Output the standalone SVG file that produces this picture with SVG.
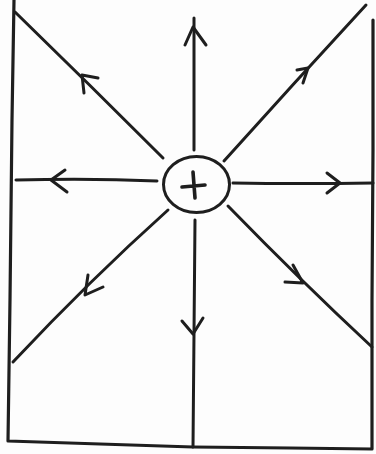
<svg xmlns="http://www.w3.org/2000/svg" width="376" height="454" viewBox="0 0 376 454">
<style>
.ln{fill:none;stroke:#1e1e1e;stroke-width:3;stroke-linecap:round;stroke-linejoin:round}
.bd{fill:none;stroke:#1e1e1e;stroke-width:3.2;stroke-linecap:round;stroke-linejoin:round}
.plus{fill:none;stroke:#1e1e1e;stroke-width:3.6;stroke-linecap:round}
</style>
<rect width="376" height="454" fill="#fdfdfd"/>
<g id="frame">
<polyline class="bd" points="14,0 12,120 10,300 8,441 100,444 193,447 290,448 372,449 372,300 373,150 373,20"/>
</g>
<g id="connectors">
<path class="ln" d="M15,12 Q90,85 163,158"/>
<polyline class="ln" points="98,78 82,75 84,93"/>
<path class="ln" d="M194,18 L194,150"/>
<polyline class="ln" points="185,45 193,27 206,45"/>
<path class="ln" d="M366,5 Q295,82 224,161"/>
<polyline class="ln" points="297,70 308,68 303,83"/>
<path class="ln" d="M16,180 Q90,178 157,181"/>
<polyline class="ln" points="65,170 51,180 67,192"/>
<path class="ln" d="M233,183 Q300,184 373,183"/>
<polyline class="ln" points="327,173 340,183 327,193"/>
<path class="ln" d="M168,210 Q90,280 13,362"/>
<polyline class="ln" points="88,275 85,295 103,287"/>
<path class="ln" d="M195,220 L193,447"/>
<polyline class="ln" points="182,321 193,334 203,318"/>
<path class="ln" d="M228,206 Q300,280 372,347"/>
<polyline class="ln" points="293,265 303,283 285,282"/>
</g>
<g id="charge">
<ellipse class="ln" cx="196.5" cy="184.5" rx="33" ry="28"/>
<path class="plus" d="M182,187 L205,185 M193,172 L195,198"/>
</g>
</svg>
